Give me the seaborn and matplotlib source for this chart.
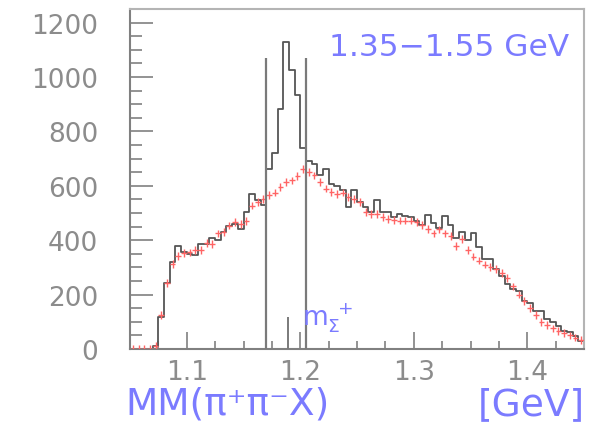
import numpy as np
import pandas as pd
import matplotlib
matplotlib.use("Agg")
import matplotlib.pyplot as plt
import seaborn as sns
from matplotlib.ticker import FixedLocator, MultipleLocator

# ---------------- data ----------------
hist_start = 1.05
hist_stop = 1.45
n_bins = 80

# measured MM(pi+ pi- X) distribution (counts per 5 MeV bin)
data_counts = [0, 0, 0, 0, 10, 117, 243, 319, 378, 356,
               350, 346, 386, 386, 407, 400, 429, 454, 458, 442,
               503, 570, 546, 530, 662, 722, 883, 1129, 1027, 935,
               738, 693, 681, 638, 662, 607, 601, 583, 521, 583,
               540, 521, 503, 546, 503, 503, 485, 497, 490, 485,
               470, 455, 492, 465, 445, 488, 455, 408, 430, 400,
               425, 374, 330, 331, 294, 268, 239, 221, 215, 178,
               170, 141, 141, 110, 98, 86, 67, 61, 49, 31]

# simulated (red crosses)
mc_counts = [0, 0, 0, 0, 12, 125, 243, 313, 343, 353,
             355, 365, 363, 390, 386, 425, 430, 454, 466, 460,
             470, 527, 540, 552, 566, 575, 595, 615, 620, 635,
             662, 650, 638, 615, 590, 577, 570, 575, 558, 552,
             540, 503, 497, 497, 485, 478, 474, 472, 472, 472,
             466, 456, 442, 425, 440, 425, 415, 378, 405, 365,
             340, 325, 310, 302, 294, 280, 260, 230, 200, 176,
             150, 125, 100, 88, 76, 66, 58, 50, 42, 34]

x_ticks = [1.1, 1.2, 1.3, 1.4]
x_tick_labels = ["1.1", "1.2", "1.3", "1.4"]
y_ticks = [0, 200, 400, 600, 800, 1000, 1200]
y_tick_labels = ["0", "200", "400", "600", "800", "1000", "1200"]

cut_lines = [1.17, 1.205]
cut_height = 1070
m_sigma = 1.189
m_sigma_height = 117

range_text = "1.35\u22121.55 GeV"
xlabel_left = "MM(\u03c0\u207a\u03c0\u207bX)"
xlabel_right = "[GeV]"
msigma_label = r"$\mathregular{m_{\Sigma}^{\ +}}$"

# ---------------- layout ----------------
W, H = 602, 427
fig = plt.figure(figsize=(W / 100, H / 100), dpi=100)
ax = fig.add_axes([130 / W, 1 - 350 / H, (584 - 130) / W, 340 / H])

edges = [float(v) for v in np.linspace(hist_start, hist_stop, n_bins + 1)]
centers = [0.5 * (edges[i] + edges[i + 1]) for i in range(n_bins)]
df = pd.DataFrame({"mm": centers, "counts": data_counts, "mc": mc_counts})

sns.histplot(data=df, x="mm", weights="counts", bins=edges, element="step",
             fill=False, color="#555555", linewidth=1.3, ax=ax)

ax.errorbar(df["mm"], df["mc"], xerr=(edges[1] - edges[0]) / 2, yerr=14,
            fmt="none", ecolor="#ff6464", elinewidth=1.0, zorder=3)

for xc in cut_lines:
    ax.vlines(xc, 0, cut_height, color="#7a7a7a", linewidth=1.6, zorder=4)
ax.vlines(m_sigma, 0, m_sigma_height, color="#7a7a7a", linewidth=1.4, zorder=4)

ax.set_xlim(hist_start, hist_stop)
ax.set_ylim(0, 1250)
ax.set_xlabel("")
ax.set_ylabel("")

ax.xaxis.set_major_locator(FixedLocator(x_ticks))
ax.set_xticklabels(x_tick_labels)
ax.xaxis.set_minor_locator(MultipleLocator(0.025))
ax.yaxis.set_major_locator(FixedLocator(y_ticks))
ax.set_yticklabels(y_tick_labels)
ax.yaxis.set_minor_locator(MultipleLocator(50))

gray = "#808080"
ax.tick_params(axis="both", which="both", direction="in", top=False, right=False,
               color=gray, width=1.2, labelcolor="#8c8c8c", labelsize=19)
ax.tick_params(axis="x", which="major", length=12, pad=7)
ax.tick_params(axis="x", which="minor", length=6)
ax.tick_params(axis="y", which="major", length=16.5, pad=23)
ax.tick_params(axis="y", which="minor", length=8.5)

for side in ["left", "bottom"]:
    ax.spines[side].set_color("#808080")
    ax.spines[side].set_linewidth(1.5)
for side in ["top", "right"]:
    ax.spines[side].set_color("#b4b4b4")
    ax.spines[side].set_linewidth(1.5)

blue = "#7b7bff"
fig.text(329 / W, 1 - 47 / H, range_text, color=blue, fontsize=22.5,
         ha="left", va="center")
fig.text(125 / W, 1 - 405 / H, xlabel_left, color=blue, fontsize=27,
         ha="left", va="center")
fig.text(585 / W, 1 - 405 / H, xlabel_right, color=blue, fontsize=27,
         ha="right", va="center")
fig.text(302 / W, 1 - 326 / H, msigma_label, color=blue, fontsize=19,
         ha="left", va="baseline")

fig.savefig("out.png", dpi=100)
